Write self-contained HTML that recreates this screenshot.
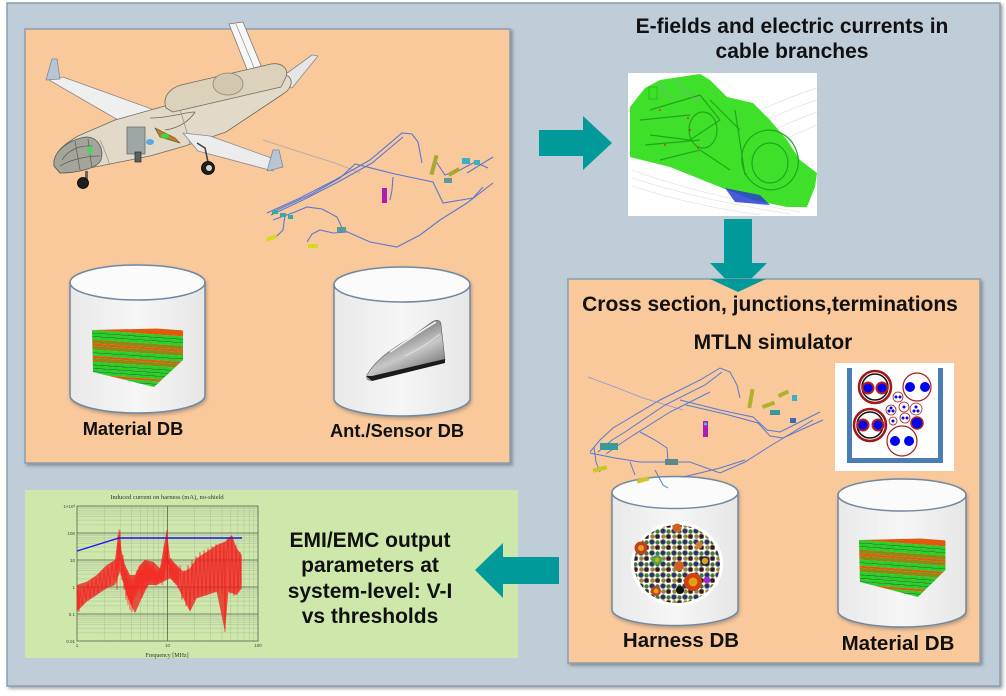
<!DOCTYPE html>
<html>
<head>
<meta charset="utf-8">
<style>
html,body{margin:0;padding:0;background:#fff;}
svg{display:block;}
text{font-family:"Liberation Sans",Arial,sans-serif;}
</style>
</head>
<body>
<svg width="1006" height="696" viewBox="0 0 1006 696" xmlns="http://www.w3.org/2000/svg">
<defs>
  <filter id="sh" x="-5%" y="-5%" width="115%" height="115%">
    <feDropShadow dx="2" dy="2" stdDeviation="1.5" flood-color="#555" flood-opacity="0.55"/>
  </filter>
  <filter id="sh2" x="-10%" y="-10%" width="130%" height="130%">
    <feDropShadow dx="1" dy="2" stdDeviation="1.5" flood-color="#555" flood-opacity="0.4"/>
  </filter>
  <linearGradient id="cylg" x1="0" x2="1" y1="0" y2="0">
    <stop offset="0" stop-color="#e9e9e9"/>
    <stop offset="0.5" stop-color="#f6f6f6"/>
    <stop offset="1" stop-color="#e6e6e6"/>
  </linearGradient>
  <linearGradient id="fin" x1="0" x2="0.6" y1="0" y2="1">
    <stop offset="0" stop-color="#d0d0d0"/>
    <stop offset="0.4" stop-color="#8a8a8a"/>
    <stop offset="0.65" stop-color="#c8c8c8"/>
    <stop offset="1" stop-color="#707070"/>
  </linearGradient>
  <pattern id="dots" width="11" height="11" patternUnits="userSpaceOnUse">
    <circle cx="3" cy="3" r="2.5" fill="#2b2b7e" stroke="#6d7c3c" stroke-width="0.8"/>
    <circle cx="8.5" cy="3.5" r="2.2" fill="#3d7a3d"/>
    <circle cx="3.5" cy="8.5" r="2.3" fill="#8c8a4a"/>
    <circle cx="8.5" cy="8.5" r="2.4" fill="#1e1e40" stroke="#c46a32" stroke-width="0.8"/>
  </pattern>
  <clipPath id="stackclip">
    <polygon points="0,2 88,0 91,3 91,32 62,59 1,44"/>
  </clipPath>
  <g id="stack">
    <g clip-path="url(#stackclip)">
      <g transform="skewY(4)">
        <rect x="0" y="-4" width="95" height="6" fill="#e05a0e"/>
        <rect x="0" y="2" width="95" height="2.6" fill="#26d126"/>
        <rect x="0" y="4.6" width="95" height="0.8" fill="#1a6e1a"/>
        <rect x="0" y="5.4" width="95" height="2.6" fill="#26d126"/>
        <rect x="0" y="8" width="95" height="0.8" fill="#1a6e1a"/>
        <rect x="0" y="8.8" width="95" height="2.6" fill="#26d126"/>
        <rect x="0" y="11.4" width="95" height="4" fill="#8c8a12"/>
        <rect x="0" y="15.4" width="95" height="2.2" fill="#e05a0e"/>
        <rect x="0" y="17.6" width="95" height="4" fill="#8c8a12"/>
        <rect x="0" y="21.6" width="95" height="2.6" fill="#26d126"/>
        <rect x="0" y="24.2" width="95" height="0.8" fill="#1a6e1a"/>
        <rect x="0" y="25" width="95" height="2.6" fill="#26d126"/>
        <rect x="0" y="27.6" width="95" height="2.2" fill="#e05a0e"/>
        <rect x="0" y="29.8" width="95" height="4" fill="#8c8a12"/>
        <rect x="0" y="33.8" width="95" height="2.6" fill="#26d126"/>
        <rect x="0" y="36.4" width="95" height="0.8" fill="#1a6e1a"/>
        <rect x="0" y="37.2" width="95" height="2.6" fill="#26d126"/>
        <rect x="0" y="39.8" width="95" height="0.8" fill="#1a6e1a"/>
        <rect x="0" y="40.6" width="95" height="2.6" fill="#26d126"/>
        <rect x="0" y="43.2" width="95" height="0.8" fill="#1a6e1a"/>
        <rect x="0" y="44" width="95" height="2.6" fill="#26d126"/>
        <rect x="0" y="46.6" width="95" height="2.2" fill="#e05a0e"/>
        <rect x="0" y="48.8" width="95" height="2.6" fill="#26d126"/>
        <rect x="0" y="51.4" width="95" height="0.8" fill="#1a6e1a"/>
        <rect x="0" y="52.2" width="95" height="2.6" fill="#26d126"/>
        <rect x="0" y="54.8" width="95" height="3" fill="#8c8a12"/>
        <rect x="0" y="57.8" width="95" height="8" fill="#e05a0e"/>
      </g>
    </g>
  </g>
</defs>

<!-- outer frame -->
<rect x="7" y="3" width="993" height="683" fill="#bfcdd9" stroke="#8c9dac" stroke-width="1.5" filter="url(#sh)"/>

<!-- top-left orange panel -->
<rect x="25" y="29" width="485" height="434" fill="#f9c89b" stroke="#8c9dac" stroke-width="1.5" filter="url(#sh)"/>

<!-- airplane -->
<g stroke="#6e6a5c" stroke-width="0.8" stroke-linejoin="round">
  <polygon points="229,24 243,22 262,68 248,72" fill="#f7f7f7" stroke="#7a7a7a"/>
  <line x1="236" y1="24" x2="255" y2="70" stroke="#9a9a9a"/>
  <polygon points="49,80 63,77 160,112 125,124" fill="#efefef" stroke="#8a8a8a"/>
  <polygon points="46,80 52,59 57,59 60,79" fill="#b8c6d4" stroke="#7a8a9a"/>
  <polygon points="272,84 312,55 318,56 292,88" fill="#e6e6e6" stroke="#8a8a8a"/>
  <path d="M54,166 C53,153 63,145 78,136 L115,120 L165,106 L190,103 L227,93 L273,80 L285,75 C294,77 293,88 283,94 L226,132 L185,146 L150,156 L100,166 L60,173 Z" fill="#e2dac8"/>
  <path d="M166,108 C162,97 170,88 181,85 L271,64 C284,62 290,71 285,79 L281,87 L173,112 Z" fill="#dcd2bb"/>
  <ellipse cx="228" cy="84" rx="15" ry="11" fill="#d2c8b0" stroke="#8a8470"/>
  <path d="M150,118 C170,118 185,112 195,112 C190,120 180,128 165,130" fill="none"/>
  <path d="M100,140 C105,150 108,160 110,165 M180,110 C185,125 188,135 190,145" fill="none" stroke="#9a9482"/>
  <polygon points="183,133 210,136 277,160 273,171 198,151" fill="#ececec" stroke="#8a8a8a"/>
  <polygon points="273,150 279,150 283,167 267,171" fill="#b8c6d4" stroke="#7a8a9a"/>
  <rect x="127" y="127" width="18" height="27" fill="#9fa6a6" stroke="#6a6a6a"/>
  <polygon points="155,128 175,138 180,143 160,137" fill="#b58032" stroke="#8a5a20"/>
  <ellipse cx="165" cy="136" rx="4" ry="2.5" fill="#3cd83c" stroke="none"/>
  <ellipse cx="150" cy="142" rx="4" ry="3" fill="#58a8e8" stroke="none"/>
  <path d="M54,166 C52,152 68,140 86,137 C99,137 104,150 101,160 C97,169 75,173 60,173 Z" fill="#a4a49a" stroke="#555"/>
  <path d="M62,160 C68,150 80,145 92,146 M60,166 C70,160 85,156 100,156 M75,141 L80,170 M88,139 L92,168" fill="none" stroke="#5a5a55" stroke-width="0.7"/>
  <ellipse cx="90" cy="150" rx="3" ry="4" fill="#4fd06a" stroke="none"/>
  <rect x="85" y="171" width="3" height="8" fill="#666" stroke="none"/>
  <circle cx="83" cy="183" r="5.5" fill="#1e1e1e" stroke="#000"/>
  <rect x="135" y="152" width="6" height="10" fill="#5c6060" stroke="#333"/>
  <path d="M197,143 L205,148 L208,162" fill="none" stroke="#444" stroke-width="1.6"/>
  <circle cx="208" cy="168" r="6.5" fill="#1e1e1e" stroke="#000"/>
  <circle cx="209" cy="168" r="3" fill="#cfd8cf" stroke="none"/>
</g>

<!-- harness top-left -->
<g fill="none" stroke="#5b78d2" stroke-width="1.1">
  <polyline points="263,140 300,152 335,163 360,173" stroke="#a8a8b8" stroke-width="0.8"/>
  <polyline points="267,213 300,198 335,180 370,160 402,133 412,134 418,142 422,163"/>
  <polyline points="271,215 303,200 338,182 372,163 403,137"/>
  <polyline points="277,210 310,195 340,178 355,164 395,174 433,182 443,203 473,198 483,187"/>
  <polyline points="273,220 295,212 307,207 322,209 337,217 343,230 370,242 397,247 420,235 440,220 467,203 493,183"/>
  <polyline points="307,242 312,234 320,230 333,233 347,232"/>
  <polyline points="393,177 392,190 390,200"/>
  <polyline points="467,173 480,165 493,157"/>
  <polyline points="435,160 445,175 460,170 475,162 488,168"/>
  <polyline points="285,215 283,230 275,238"/>
</g>
<g stroke="none">
  <rect x="272" y="210" width="6" height="4" fill="#3aa8a8"/>
  <rect x="280" y="213" width="6" height="4" fill="#3aa8a8"/>
  <rect x="288" y="215" width="5" height="4" fill="#3aa8a8"/>
  <rect x="266" y="236" width="11" height="4" fill="#d8d820" transform="rotate(-20 271 238)"/>
  <rect x="308" y="244" width="10" height="4" fill="#d8d820"/>
  <rect x="337" y="227" width="9" height="5" fill="#5a9a9a"/>
  <rect x="382" y="188" width="5" height="15" fill="#b01ab8"/>
  <rect x="432" y="155" width="4" height="20" fill="#a8a830" transform="rotate(15 434 165)"/>
  <rect x="448" y="170" width="12" height="4" fill="#a8a830" transform="rotate(-30 454 172)"/>
  <rect x="462" y="158" width="8" height="6" fill="#3ab0c0"/>
  <rect x="474" y="160" width="6" height="5" fill="#3ab0c0"/>
  <rect x="444" y="178" width="8" height="5" fill="#5a9a9a"/>
</g>

<!-- cylinder 1 -->
<g filter="url(#sh2)">
  <path d="M70,282.5 L70,395.5 A67.5,17.5 0 0 0 205,395.5 L205,282.5 Z" fill="url(#cylg)" stroke="#7088a0" stroke-width="1.5"/>
  <ellipse cx="137.5" cy="282.5" rx="67.5" ry="17.5" fill="#fbfbfb" stroke="#7088a0" stroke-width="1.5"/>
</g>
<use href="#stack" x="92" y="328"/>
<!-- cylinder 2 -->
<g filter="url(#sh2)">
  <path d="M334,284.5 L334,398.5 A68,17.5 0 0 0 470,398.5 L470,284.5 Z" fill="url(#cylg)" stroke="#7088a0" stroke-width="1.5"/>
  <ellipse cx="402" cy="284.5" rx="68" ry="17.5" fill="#fbfbfb" stroke="#7088a0" stroke-width="1.5"/>
</g>
<!-- shark fin antenna -->
<path d="M367,375 C375,360 393,348 410,338 L432,322 C437,319 441,320 441,325 L445,360 C420,366 395,372 372,380 C368,381 366,379 367,375 Z" fill="url(#fin)" stroke="#5a5a5a" stroke-width="0.6"/>
<path d="M366,376 L372,381 L445,363 L445,359 L372,376 Z" fill="#1a1a1a"/>
<path d="M390,352 C408,340 422,330 436,322" fill="none" stroke="#f0f0f0" stroke-width="1.6"/>
<path d="M405,356 C418,350 430,342 440,334" fill="none" stroke="#e0e0e0" stroke-width="1"/>

<text x="133" y="435" font-size="18.3" font-weight="bold" text-anchor="middle" fill="#111">Material DB</text>
<text x="397" y="437" font-size="18.3" font-weight="bold" text-anchor="middle" fill="#111">Ant./Sensor DB</text>

<!-- top right title -->
<text x="792" y="33" font-size="21" font-weight="bold" text-anchor="middle" fill="#111">E-fields and electric currents in</text>
<text x="792" y="58" font-size="21" font-weight="bold" text-anchor="middle" fill="#111">cable branches</text>

<!-- E-field image -->
<rect x="628" y="73" width="189" height="143" fill="#ffffff"/>
<g fill="none" stroke="#e2e2e2" stroke-width="0.7">
  <path d="M740,120 Q780,100 817,88"/>
  <path d="M750,128 Q785,110 817,100"/>
  <path d="M760,136 Q790,122 817,112"/>
  <path d="M770,145 Q795,135 817,125"/>
  <path d="M632,170 Q700,195 800,212"/>
  <path d="M632,178 Q700,200 790,214"/>
  <path d="M632,186 Q690,205 760,215"/>
</g>
<path d="M630,107 L645,88 L660,80 L700,74 L710,80 L727,97 L753,103 L770,120 L787,140 L800,160 L817,173 L815,187 L807,207 L787,207 L753,200 L720,187 L670,167 L630,157 Z" fill="#3fe02a"/>
<g fill="none" stroke="#1ea818" stroke-width="1.2">
  <ellipse cx="770" cy="160" rx="28" ry="30" transform="rotate(-20 770 160)"/>
  <ellipse cx="770" cy="163" rx="18" ry="20"/>
  <path d="M650,110 L700,95 L720,120 L690,140 L650,135"/>
  <path d="M660,160 L700,150 L730,170"/>
  <ellipse cx="703" cy="130" rx="14" ry="18"/>
  <path d="M640,120 L690,115 M645,145 L700,140 M710,100 L740,130 M735,110 L745,175"/>
</g>
<rect x="649" y="87" width="8" height="12" fill="#3fe02a" stroke="#1ea818" stroke-width="0.6"/>
<path d="M725,188 L760,195 L770,205 L735,202 Z" fill="#2a3ed0" opacity="0.85"/>
<g fill="#e83020">
  <circle cx="660" cy="110" r="1"/><circle cx="688" cy="118" r="1"/><circle cx="698" cy="148" r="1"/><circle cx="665" cy="145" r="1"/><circle cx="690" cy="130" r="1"/>
</g>
<path d="M660,82 C662,90 668,98 675,99 M675,78 C680,88 690,98 700,100" fill="none" stroke="#8aa0a8" stroke-width="0.8"/>

<!-- right arrow -->
<polygon points="539,130 583,130 583,116 612,143 583,170 583,156 539,156" fill="#009a9a"/>
<!-- down arrow -->
<polygon points="724,219 752,219 752,263 767,263 738,292 710,263 724,263" fill="#009a9a"/>

<!-- bottom-right orange panel -->
<rect x="568" y="279" width="412" height="384" fill="#f9c89b" stroke="#8c9dac" stroke-width="1.5" filter="url(#sh)"/>
<polygon points="710,279 766,279 738,292" fill="#009a9a"/>

<text x="770" y="311" font-size="21" font-weight="bold" text-anchor="middle" fill="#111">Cross section, junctions,terminations</text>
<text x="773" y="349" font-size="21" font-weight="bold" text-anchor="middle" fill="#111">MTLN simulator</text>

<!-- harness bottom-right -->
<g fill="none" stroke="#5b78d2" stroke-width="1">
  <polyline points="588,377 615,387 643,398 683,410" stroke="#8a9ad8" stroke-width="0.8"/>
  <polyline points="590,452 600,440 613,428 660,400 700,380 720,368 730,372 737,385 740,398"/>
  <polyline points="598,452 612,440 625,432 665,405 705,385 722,372"/>
  <polyline points="606,454 620,444 632,436 670,412 710,392"/>
  <polyline points="680,400 720,410 753,417 767,430 780,432 800,422 820,412"/>
  <polyline points="686,405 725,414 758,423 770,436 783,438 805,428 823,420"/>
  <polyline points="590,453 615,458 640,462 670,462 690,462 720,473 745,462 767,448 790,434 813,420"/>
  <polyline points="640,432 655,440 667,448 668,462"/>
  <polyline points="630,462 635,475"/>
  <polyline points="594,447 596,462 600,472"/>
</g>
<g stroke="none">
  <rect x="600" y="443" width="18" height="7" fill="#3a9a9a"/>
  <rect x="665" y="459" width="13" height="6" fill="#5a8a8a"/>
  <rect x="593" y="467" width="14" height="4" fill="#c8c820" transform="rotate(-15 600 469)"/>
  <rect x="703" y="421" width="5" height="16" fill="#b01ab8"/>
  <circle cx="705.5" cy="424" r="1.5" fill="#2ad8d8"/>
  <rect x="749" y="389" width="4" height="19" fill="#b0b030" transform="rotate(10 751 398)"/>
  <rect x="762" y="403" width="13" height="4" fill="#b0b030" transform="rotate(-20 768 405)"/>
  <rect x="778" y="392" width="11" height="4" fill="#b0b030" transform="rotate(-25 783 394)"/>
  <rect x="770" y="410" width="10" height="5" fill="#3a9a9a"/>
  <rect x="792" y="395" width="5" height="6" fill="#3ab0d0"/>
  <rect x="790" y="418" width="6" height="5" fill="#3a6ab0"/>
</g>

<!-- cross section image -->
<rect x="835" y="363" width="119" height="108" fill="#ffffff"/>
<g fill="#4a7cb5">
  <rect x="847" y="368" width="5" height="95"/>
  <rect x="938" y="368" width="5" height="95"/>
  <rect x="847" y="458" width="96" height="5"/>
</g>
<g>
  <circle cx="875" cy="387" r="16" fill="#fff" stroke="#a01818" stroke-width="2.5"/>
  <circle cx="875" cy="387" r="13" fill="none" stroke="#111" stroke-width="1.5"/>
  <circle cx="868" cy="388" r="5.5" fill="#0000ee" stroke="#b02020" stroke-width="2"/>
  <circle cx="882" cy="388" r="5.5" fill="#0000ee" stroke="#b02020" stroke-width="2"/>
  <circle cx="917" cy="387" r="14" fill="#fff" stroke="#a02020" stroke-width="1.2"/>
  <circle cx="910" cy="387" r="5" fill="#0000ee"/>
  <circle cx="925" cy="387" r="5" fill="#0000ee"/>
  <circle cx="870" cy="425" r="16" fill="#fff" stroke="#a01818" stroke-width="2.5"/>
  <circle cx="870" cy="425" r="13" fill="none" stroke="#111" stroke-width="1.5"/>
  <circle cx="863" cy="425" r="5.5" fill="#0000ee" stroke="#b02020" stroke-width="2"/>
  <circle cx="878" cy="425" r="5.5" fill="#0000ee" stroke="#b02020" stroke-width="2"/>
  <circle cx="902" cy="441" r="15" fill="#fff" stroke="#a02020" stroke-width="1.2"/>
  <circle cx="895" cy="441" r="5" fill="#0000ee"/>
  <circle cx="909" cy="441" r="5" fill="#0000ee"/>
  <circle cx="917" cy="423" r="6" fill="#0000ee" stroke="#b02020" stroke-width="1.5"/>
  <circle cx="898" cy="397" r="5" fill="#fff" stroke="#a02020" stroke-width="0.8"/>
  <circle cx="896" cy="397" r="1.5" fill="#0000ee"/><circle cx="900" cy="397" r="1.5" fill="#0000ee"/>
  <circle cx="891" cy="410" r="5" fill="#fff" stroke="#a02020" stroke-width="0.8"/>
  <circle cx="891" cy="408" r="1.5" fill="#0000ee"/><circle cx="889" cy="411" r="1.5" fill="#0000ee"/><circle cx="893" cy="411" r="1.5" fill="#0000ee"/>
  <circle cx="904" cy="407" r="5" fill="#fff" stroke="#a02020" stroke-width="0.8"/>
  <circle cx="904" cy="407" r="1.5" fill="#0000ee"/>
  <circle cx="916" cy="409" r="6" fill="#fff" stroke="#a02020" stroke-width="0.8"/>
  <circle cx="916" cy="407" r="1.5" fill="#0000ee"/><circle cx="914" cy="411" r="1.5" fill="#0000ee"/><circle cx="918" cy="411" r="1.5" fill="#0000ee"/>
  <circle cx="905" cy="418" r="5" fill="#fff" stroke="#a02020" stroke-width="0.8"/>
  <circle cx="903" cy="418" r="1.5" fill="#0000ee"/><circle cx="907" cy="418" r="1.5" fill="#0000ee"/>
  <circle cx="893" cy="421" r="4" fill="#fff" stroke="#a02020" stroke-width="0.8"/>
  <circle cx="893" cy="421" r="1.5" fill="#0000ee"/>
</g>

<!-- harness cylinder -->
<g filter="url(#sh2)">
  <path d="M612,492.5 L612,609.5 A63,16 0 0 0 738,609.5 L738,492.5 Z" fill="url(#cylg)" stroke="#7088a0" stroke-width="1.5"/>
  <ellipse cx="675" cy="492.5" rx="63" ry="16" fill="#fbfbfb" stroke="#7088a0" stroke-width="1.5"/>
</g>
<ellipse cx="677" cy="564" rx="46" ry="42" fill="#ffffff"/>
<ellipse cx="677" cy="564" rx="43" ry="39" fill="url(#dots)"/>
<g>
  <circle cx="693" cy="582" r="9" fill="#d04010"/><circle cx="693" cy="582" r="4.5" fill="#e0a010"/>
  <circle cx="641" cy="548" r="6.5" fill="#c04020"/><circle cx="641" cy="548" r="3" fill="#e0a020"/>
  <circle cx="657" cy="560" r="5" fill="#44a844"/><circle cx="657" cy="560" r="2.3" fill="#e0a020"/>
  <circle cx="656" cy="591" r="5" fill="#c04020"/><circle cx="656" cy="591" r="2.5" fill="#e0a020"/>
  <circle cx="677" cy="528" r="4.5" fill="#d06020"/>
  <circle cx="679" cy="566" r="5" fill="#d06020"/>
  <circle cx="705" cy="561" r="4" fill="#e0a020" stroke="#1e1e40" stroke-width="1.5"/>
  <circle cx="707" cy="580" r="3.5" fill="#9a30d0"/>
  <circle cx="680" cy="590" r="4" fill="#111"/>
  <circle cx="699" cy="545" r="3.5" fill="#d08030"/>
</g>
<g fill="none" stroke="#5b78d2" stroke-width="1">
  <polyline points="655,470 663,485 668,488"/>
  <polyline points="683,477 700,473 720,468 745,460"/>
</g>
<rect x="637" y="478" width="12" height="4" fill="#c8c820" transform="rotate(-15 643 480)"/>

<!-- material cylinder bottom right -->
<g filter="url(#sh2)">
  <path d="M838,495 L838,611 A64,16 0 0 0 966,611 L966,495 Z" fill="url(#cylg)" stroke="#7088a0" stroke-width="1.5"/>
  <ellipse cx="902" cy="495" rx="64" ry="16" fill="#fbfbfb" stroke="#7088a0" stroke-width="1.5"/>
</g>
<use href="#stack" transform="translate(859,538) scale(0.95,1)"/>

<text x="681" y="647" font-size="20.5" font-weight="bold" text-anchor="middle" fill="#111">Harness DB</text>
<text x="898" y="650" font-size="20.5" font-weight="bold" text-anchor="middle" fill="#111">Material DB</text>

<!-- green panel -->
<rect x="25" y="490" width="493" height="168" fill="#cde8aa"/>

<!-- chart -->
<text x="167" y="499" font-size="6.5" text-anchor="middle" fill="#333" style="font-family:'Liberation Serif',serif">Induced current on harness (mA), no-shield</text>
<g stroke="#a8b49a" stroke-width="0.4" fill="none">
  <path d="M104.2,506V641M120.2,506V641M131.5,506V641M140.3,506V641M147.4,506V641M153.5,506V641M158.7,506V641M163.3,506V641M194.7,506V641M210.7,506V641M222,506V641M230.8,506V641M237.9,506V641M244,506V641M249.2,506V641M253.8,506V641"/>
  <path d="M77,632.9H258M77,628.1H258M77,624.7H258M77,622.1H258M77,620H258M77,618.2H258M77,616.6H258M77,615.2H258
  M77,605.9H258M77,601.1H258M77,597.7H258M77,595.1H258M77,593H258M77,591.2H258M77,589.6H258M77,588.2H258
  M77,578.9H258M77,574.1H258M77,570.7H258M77,568.1H258M77,566H258M77,564.2H258M77,562.6H258M77,561.2H258
  M77,551.9H258M77,547.1H258M77,543.7H258M77,541.1H258M77,539H258M77,537.2H258M77,535.6H258M77,534.2H258
  M77,524.9H258M77,520.1H258M77,516.7H258M77,514.1H258M77,512H258M77,510.2H258M77,508.6H258M77,507.2H258"/>
</g>
<g stroke="#5a6050" stroke-width="0.8" fill="none">
  <rect x="77" y="506" width="181" height="135"/>
  <path d="M167.5,506V641M77,533H258M77,560H258M77,587H258M77,614H258"/>
</g>
<g font-size="4.5" fill="#444" style="font-family:'Liberation Serif',serif" text-anchor="end">
  <text x="75" y="508">1×10³</text>
  <text x="75" y="535">100</text>
  <text x="75" y="562">10</text>
  <text x="75" y="589">1</text>
  <text x="75" y="616">0.1</text>
  <text x="75" y="643">0.01</text>
</g>
<g font-size="4.5" fill="#444" style="font-family:'Liberation Serif',serif" text-anchor="middle">
  <text x="77" y="647">1</text>
  <text x="167.5" y="647">10</text>
  <text x="258" y="647">100</text>
</g>
<text x="167" y="657" font-size="6" text-anchor="middle" fill="#333" style="font-family:'Liberation Serif',serif">Frequency [MHz]</text>
<path d="M76.7,585 L86.7,581.7 L96.7,575 L106.7,565 L115,560 L119,528.3 L121.7,551.7 L125,565 L130,575 L135,575 L140,565 L145,560 L153.3,561.7 L160,568.3 L166.7,530 L170,558.3 L176.7,565 L183.3,571.7 L190,568.3 L196.7,558.3 L206.7,551.7 L216.7,545 L225,541.7 L231.7,535 L236.7,548.3 L241.7,555
L241.7,588.3 L236.7,595 L228.3,591.7 L225,631.7 L216.7,591.7 L206.7,595 L196.7,598.3 L190,611.7 L183.3,598.3 L176.7,585 L170,578.3 L163.3,581.7 L156.7,585 L148.3,585 L141.7,598.3 L135,613.3 L126.7,595 L120,571.7 L115,585 L106.7,588.3 L96.7,595 L86.7,601.7 L76.7,611.7 Z" fill="#f01010" fill-opacity="0.7" stroke="none"/>
<g stroke="#ff1a1a" stroke-width="0.6" fill="none">
  <path d="M77,600 L78,590 L79,612 L80,590 L82,605 L84,588 L86,600 L88,583 L90,598 L92,580 L94,596 L96,578 L98,593 L100,573 L102,590 L104,570 L106,588 L108,567 L110,585 L112,563 L114,580 L116,560 L117,590 L118,535 L119,570 L120,530 L121,560 L122,580 L123,555 L124,590 L125,565 L126,600 L127,570 L128,605 L129,575 L130,610 L131,578 L132,612 L133,580 L134,600 L135,575 L136,596 L137,570 L138,592 L139,566 L140,590 L141,565 L142,598 L143,562 L144,590 L145,560 L146,588 L147,562 L148,586 L149,563 L150,584 L151,565 L152,583 L153,563 L154,585 L155,568 L156,586 L157,570 L158,584 L159,568 L160,582 L161,565 L162,585 L163,560 L164,580 L165,545 L166,570 L167,530 L168,565 L169,560 L170,578 L171,558 L172,580 L173,562 L174,583 L175,565 L176,585 L177,566 L178,588 L179,568"/>
  <path d="M180,565 L182,600 L184,570 L186,606 L188,565 L190,610 L192,560 L194,600 L196,556 L198,598 L200,552 L202,597 L204,550 L206,596 L208,548 L210,594 L212,546 L214,592 L216,544 L218,593 L220,543 L222,594 L224,542 L225,632 L226,560 L228,538 L230,594 L232,536 L234,596 L236,545 L238,592 L240,552 L241,585"/>
</g>
<polyline points="77,551 119,538 242,538" fill="none" stroke="#1a1aee" stroke-width="1.4"/>

<!-- EMI text -->
<g font-size="21" font-weight="bold" text-anchor="middle" fill="#111">
  <text x="370" y="547">EMI/EMC output</text>
  <text x="370" y="572">parameters at</text>
  <text x="370" y="598">system-level: V-I</text>
  <text x="370" y="623">vs thresholds</text>
</g>

<!-- left arrow -->
<polygon points="559,557 503,557 503,543 475,570 503,598 503,584 559,584" fill="#009a9a"/>
</svg>
</body>
</html>
